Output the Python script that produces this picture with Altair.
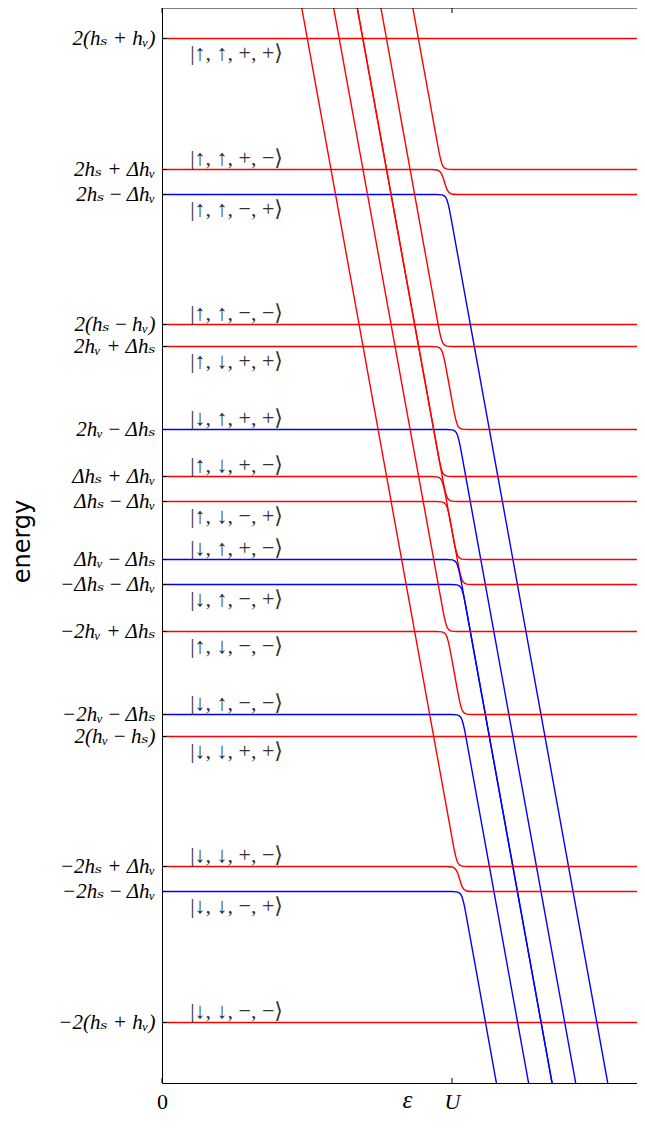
import json
import altair as alt
import pandas as pd

# ---------------- values ----------------
# energy unit: 1 unit ~ 100 px ; epsilon unit: U = 1
level_E = [4.92, 3.61, 3.36, 2.06, 1.84, 1.01, 0.54, 0.29,
           -0.29, -0.54, -1.01, -1.84, -2.06, -3.36, -3.61, -4.92]

level_labels = [
    "2(h\u209b + h\u1d65)",
    "2h\u209b + \u0394h\u1d65",
    "2h\u209b\u2009\u2212\u2009\u0394h\u1d65",
    "2(h\u209b\u2009\u2212\u2009h\u1d65)",
    "2h\u1d65 + \u0394h\u209b",
    "2h\u1d65\u2009\u2212\u2009\u0394h\u209b",
    "\u0394h\u209b + \u0394h\u1d65",
    "\u0394h\u209b\u2009\u2212\u2009\u0394h\u1d65",
    "\u0394h\u1d65\u2009\u2212\u2009\u0394h\u209b",
    "\u2212\u0394h\u209b\u2009\u2212\u2009\u0394h\u1d65",
    "\u22122h\u1d65 + \u0394h\u209b",
    "\u22122h\u1d65\u2009\u2212\u2009\u0394h\u209b",
    "2(h\u1d65\u2009\u2212\u2009h\u209b)",
    "\u22122h\u209b + \u0394h\u1d65",
    "\u22122h\u209b\u2009\u2212\u2009\u0394h\u1d65",
    "\u22122(h\u209b + h\u1d65)",
]

ket_labels = [
    "|\u2191, \u2191, +, +\u27e9",
    "|\u2191, \u2191, +, \u2212\u27e9",
    "|\u2191, \u2191, \u2212, +\u27e9",
    "|\u2191, \u2191, \u2212, \u2212\u27e9",
    "|\u2191, \u2193, +, +\u27e9",
    "|\u2193, \u2191, +, +\u27e9",
    "|\u2191, \u2193, +, \u2212\u27e9",
    "|\u2191, \u2193, \u2212, +\u27e9",
    "|\u2193, \u2191, +, \u2212\u27e9",
    "|\u2193, \u2191, \u2212, +\u27e9",
    "|\u2191, \u2193, \u2212, \u2212\u27e9",
    "|\u2193, \u2191, \u2212, \u2212\u27e9",
    "|\u2193, \u2193, +, +\u27e9",
    "|\u2193, \u2193, +, \u2212\u27e9",
    "|\u2193, \u2193, \u2212, +\u27e9",
    "|\u2193, \u2193, \u2212, \u2212\u27e9",
]
ket_side = ["below", "above", "below", "above", "below", "above", "above", "below",
            "above", "below", "below", "above", "below", "above", "below", "above"]
ket_eps = 0.097

x_ticks = [0, 1]
x_tick_labels = ["0", "U"]

# curves: (name, colour, epsilon control points, energy control points)
curves = [
    # uncoupled levels
    ("L1", "red", [0, 1.70], [4.92, 4.92]),
    ("L4", "red", [0, 1.70], [2.06, 2.06]),
    ("L13", "red", [0, 1.70], [-2.06, -2.06]),
    ("L16", "red", [0, 1.70], [-4.92, -4.92]),
    # group A
    ("A1", "red", [0.854, 0.930, 0.954, 0.966, 0.996, 1.066, 1.70],
                  [5.40, 4.186, 3.802, 3.61, 3.61, 3.61, 3.61]),
    ("A2", "red", [0, 0.866, 0.936, 0.966, 0.982, 1.012, 1.082, 1.70],
                  [3.61, 3.61, 3.61, 3.61, 3.36, 3.36, 3.36, 3.36]),
    ("A3", "blue", [0, 0.882, 0.952, 0.982, 0.994, 1.018, 1.548],
                   [3.36, 3.36, 3.36, 3.36, 3.168, 2.784, -5.70]),
    # group B
    ("B1", "red", [0.744, 0.930, 0.954, 0.966, 0.996, 1.066, 1.70],
                  [5.40, 2.416, 2.032, 1.84, 1.84, 1.84, 1.84]),
    ("B2", "red", [0, 0.866, 0.936, 0.966, 0.978, 1.006, 1.018, 1.048, 1.118, 1.70],
                  [1.84, 1.84, 1.84, 1.84, 1.648, 1.202, 1.01, 1.01, 1.01, 1.01]),
    ("B3", "blue", [0, 0.918, 0.988, 1.018, 1.030, 1.054, 1.4375],
                   [1.01, 1.01, 1.01, 1.01, 0.818, 0.434, -5.70]),
    # group C
    ("C1", "red", [0.6625, 0.930, 0.954, 0.966, 0.996, 1.066, 1.70],
                  [5.40, 1.116, 0.732, 0.54, 0.54, 0.54, 0.54]),
    ("C2", "red", [0.6625, 0.946, 0.970, 0.982, 1.012, 1.082, 1.70],
                  [5.40, 0.866, 0.482, 0.29, 0.29, 0.29, 0.29]),
    ("C3", "red", [0, 0.866, 0.936, 0.966, 0.978, 1.006, 1.018, 1.048, 1.118, 1.70],
                  [0.54, 0.54, 0.54, 0.54, 0.348, -0.098, -0.29, -0.29, -0.29, -0.29]),
    ("C4", "red", [0, 0.882, 0.952, 0.982, 0.994, 1.022, 1.034, 1.064, 1.134, 1.70],
                  [0.29, 0.29, 0.29, 0.29, 0.098, -0.348, -0.54, -0.54, -0.54, -0.54]),
    ("C5", "blue", [0, 0.918, 0.988, 1.018, 1.030, 1.054, 1.356],
                   [-0.29, -0.29, -0.29, -0.29, -0.482, -0.866, -5.70]),
    ("C6", "blue", [0, 0.934, 1.004, 1.034, 1.046, 1.070, 1.356],
                   [-0.54, -0.54, -0.54, -0.54, -0.732, -1.116, -5.70]),
    # group D
    ("D1", "red", [0.581, 0.946, 0.970, 0.982, 1.012, 1.082, 1.70],
                  [5.40, -0.434, -0.818, -1.01, -1.01, -1.01, -1.01]),
    ("D2", "red", [0, 0.882, 0.952, 0.982, 0.994, 1.022, 1.034, 1.064, 1.134, 1.70],
                  [-1.01, -1.01, -1.01, -1.01, -1.202, -1.648, -1.84, -1.84, -1.84, -1.84]),
    ("D3", "blue", [0, 0.934, 1.004, 1.034, 1.046, 1.070, 1.275],
                   [-1.84, -1.84, -1.84, -1.84, -2.032, -2.416, -5.70]),
    # group E
    ("E1", "red", [0.471, 0.982, 1.006, 1.018, 1.048, 1.118, 1.70],
                  [5.40, -2.784, -3.168, -3.36, -3.36, -3.36, -3.36]),
    ("E2", "red", [0, 0.918, 0.988, 1.018, 1.034, 1.064, 1.134, 1.70],
                  [-3.36, -3.36, -3.36, -3.36, -3.61, -3.61, -3.61, -3.61]),
    ("E3", "blue", [0, 0.934, 1.004, 1.034, 1.046, 1.070, 1.164],
                   [-3.61, -3.61, -3.61, -3.61, -3.802, -4.186, -5.70]),
]

color_map = {"red": "#ff0000", "blue": "#0000ff"}

# ---------------- tables ----------------
rows = []
for name, col, xs, ys in curves:
    for i, (xv, yv) in enumerate(zip(xs, ys)):
        rows.append({"curve": name, "idx": i, "eps": xv, "E": yv, "col": color_map[col]})
df_curves = pd.DataFrame(rows)

df_levels = pd.DataFrame({"E": level_E, "ket": ket_labels, "side": ket_side,
                          "eps": [ket_eps] * len(level_E)})
df_xt = pd.DataFrame({"eps": x_ticks})
df_one = pd.DataFrame({"k": [0]})

# page is 645 px wide: svg must stay within 645 - 2*8 px
W, H = 475, 1075
X_DOM = [0, W / 290.0]
Y_DOM = [-5.525, 5.225]
SERIF = "Liberation Serif, DejaVu Serif"

xscale = alt.Scale(domain=X_DOM, nice=False, zero=False)
yscale = alt.Scale(domain=Y_DOM, nice=False, zero=False)

y_label_expr = f"{json.dumps(level_labels)}[indexof({json.dumps(level_E)}, datum.value)]"
x_label_expr = f"{json.dumps(x_tick_labels)}[indexof({json.dumps(x_ticks)}, datum.value)]"

x_axis = alt.Axis(values=x_ticks, labelExpr=x_label_expr, ticks=False,
                  domain=True, domainColor="black", domainWidth=1, grid=False,
                  labelFont=SERIF, labelFontSize=22, labelColor="black", labelPadding=8,
                  labelFlush=False, labelOverlap=False,
                  labelFontStyle={"condition": {"test": "datum.value == 1", "value": "italic"},
                                  "value": "normal"},
                  title="\u03b5", titleFont=SERIF, titleFontStyle="italic", titleFontSize=25,
                  titleFontWeight="normal", titleColor="black", titleY=24, titleX=245,
                  titleAlign="center", titleBaseline="alphabetic")

y_axis = alt.Axis(values=level_E, labelExpr=y_label_expr, ticks=False,
                  domain=True, domainColor="black", domainWidth=1, grid=False,
                  labelFont=SERIF, labelFontSize=21, labelFontStyle="italic", labelColor="black",
                  labelPadding=7, labelOverlap=False, labelFlush=False,
                  title="energy", titleFont="DejaVu Sans", titleFontSize=24,
                  titleFontWeight="normal", titleColor="black", titleAngle=270,
                  titleX=-133, titleY=533, titleAlign="center", titleBaseline="alphabetic")

X = alt.X("eps:Q", scale=xscale, axis=x_axis)
Y = alt.Y("E:Q", scale=yscale, axis=y_axis)

lines = alt.Chart(df_curves).mark_line(interpolate="basis", strokeWidth=1.4, clip=True).encode(
    x=X, y=Y,
    detail="curve:N",
    order="idx:Q",
    color=alt.Color("col:N", scale=None),
)

ket_common = dict(align="left", baseline="middle", font=SERIF, fontSize=22, color="#333333")
kets_below = alt.Chart(df_levels).transform_filter("datum.side == 'below'").mark_text(
    dy=14, **ket_common).encode(x=X, y=Y, text="ket:N")
kets_above = alt.Chart(df_levels).transform_filter("datum.side == 'above'").mark_text(
    dy=-12, **ket_common).encode(x=X, y=Y, text="ket:N")

ytick = alt.Chart(df_levels).mark_rule(color="black", strokeWidth=1).encode(
    y=Y, x=alt.value(0), x2=alt.value(5))
xtick_bot = alt.Chart(df_xt).mark_rule(color="black", strokeWidth=1).encode(
    x=X, y=alt.value(H), y2=alt.value(H - 5))
xtick_top = alt.Chart(df_xt).mark_rule(color="black", strokeWidth=1).encode(
    x=X, y=alt.value(0), y2=alt.value(5))
top_spine = alt.Chart(df_one).mark_rule(color="black", strokeWidth=1).encode(
    x=alt.value(0), x2=alt.value(W), y=alt.value(0))

chart = alt.layer(lines, kets_below, kets_above, ytick, xtick_bot, xtick_top, top_spine).properties(
    width=W, height=H,
    autosize=alt.AutoSizeParams(type="none"),
    padding={"left": 154, "top": 0, "right": 0, "bottom": 32},
    background="white",
).configure_view(strokeWidth=0)

chart.save("out.html", embed_options={"renderer": "svg", "actions": False})
